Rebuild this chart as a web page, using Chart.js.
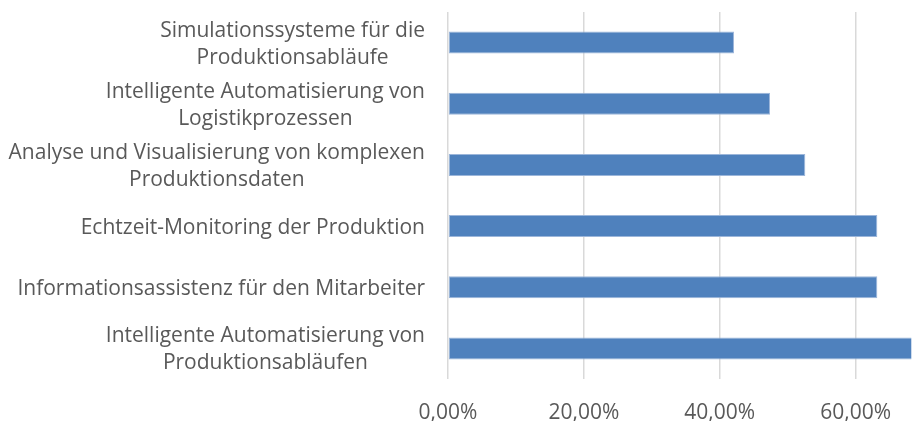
<!DOCTYPE html>
<html>
<head>
<meta charset="utf-8">
<script src="https://cdn.jsdelivr.net/npm/chart.js@4.4.1/dist/chart.umd.min.js"></script>
<style>
  html, body { margin: 0; padding: 0; background: #fff; }
  #wrap { width: 912px; height: 421px; position: relative; }
</style>
</head>
<body>
<div id="wrap"><canvas id="mycanvas"></canvas></div>
<script>
// categories, top to bottom (each one split into its printed lines)
var categories = [
	['Simulationssysteme für die', 'Produktionsabläufe'],
	['Intelligente Automatisierung von', 'Logistikprozessen'],
	['Analyse und Visualisierung von komplexen', 'Produktionsdaten'],
	['Echtzeit-Monitoring der Produktion'],
	['Informationsassistenz für den Mitarbeiter'],
	['Intelligente Automatisierung von', 'Produktionsabläufen']
];
// share in percent
var shares = [42.1, 47.4, 52.6, 63.2, 63.2, 73.7];
var xTicks = [0, 20, 40, 60];

var FONT = '"Open Sans", Lato, sans-serif';
var TEXT = '#595959';

// left labels: right aligned as a block, lines centered inside the block
var labelPlugin = {
	id: 'catLabels',
	afterDraw: function(chart) {
		var ctx = chart.ctx;
		var yScale = chart.scales.y;
		var right = chart.chartArea.left - 23;
		var lh = 27;
		ctx.save();
		ctx.font = '21px ' + FONT;
		ctx.fillStyle = TEXT;
		ctx.textAlign = 'center';
		ctx.textBaseline = 'middle';
		for (var i = 0; i < categories.length; i++) {
			var lines = categories[i];
			var maxW = 0;
			for (var j = 0; j < lines.length; j++) {
				maxW = Math.max(maxW, ctx.measureText(lines[j]).width);
			}
			var cx = right - maxW / 2;
			var yc = yScale.getPixelForValue(i) + 1.5;
			for (var j = 0; j < lines.length; j++) {
				ctx.fillText(lines[j], cx, yc + (j - (lines.length - 1) / 2) * lh);
			}
		}
		ctx.restore();
	}
};

var ctx = document.getElementById('mycanvas');
new Chart(ctx, {
	type: 'bar',
	data: {
		labels: categories.map(function(c) { return c.join(' '); }),
		datasets: [{
			data: shares,
			backgroundColor: '#4f81bd',
			borderColor: '#9cb6da',
			borderWidth: 1,
			borderSkipped: false,
			categoryPercentage: 1,
			barPercentage: 0.36
		}]
	},
	options: {
		indexAxis: 'y',
		responsive: true,
		maintainAspectRatio: false,
		animation: false,
		layout: { padding: { top: 12, right: 0, bottom: 0, left: 0 } },
		plugins: {
			legend: { display: false },
			tooltip: { enabled: false }
		},
		scales: {
			x: {
				min: 0,
				max: 68.2,
				afterFit: function(s) { s.height = 42; },
				afterBuildTicks: function(s) {
					s.ticks = xTicks.map(function(v) { return { value: v }; });
				},
				grid: { color: '#d9d9d9', lineWidth: 1.5, drawTicks: false },
				border: { display: false },
				ticks: {
					includeBounds: false,
					padding: 21,
					color: TEXT,
					font: { family: FONT, size: 21 },
					maxRotation: 0,
					callback: function(v) { return v.toFixed(2).replace('.', ',') + '%'; }
				}
			},
			y: {
				afterFit: function(s) { s.width = 448; },
				grid: { display: false },
				border: { display: false },
				ticks: { display: false }
			}
		}
	},
	plugins: [labelPlugin]
});
</script>
</body>
</html>
